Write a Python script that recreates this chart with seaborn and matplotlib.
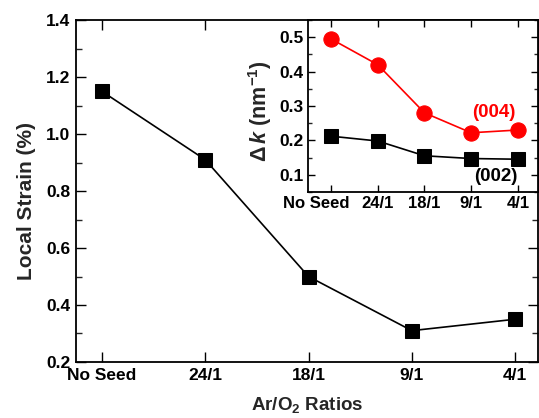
import numpy as np
import pandas as pd
import matplotlib
matplotlib.use("Agg")
import matplotlib.pyplot as plt
import matplotlib.transforms as mtransforms
import seaborn as sns
from matplotlib.ticker import MultipleLocator

categories = ["No Seed", "24/1", "18/1", "9/1", "4/1"]
local_strain = [1.15, 0.91, 0.50, 0.31, 0.35]
dk_004 = [0.495, 0.42, 0.28, 0.222, 0.23]
dk_002 = [0.212, 0.198, 0.155, 0.147, 0.145]

sns.set_theme(style="ticks")
plt.rcParams["font.family"] = ["Liberation Sans", "DejaVu Sans"]
plt.rcParams["font.weight"] = "bold"
plt.rcParams["mathtext.fontset"] = "custom"
plt.rcParams["mathtext.rm"] = "Liberation Sans:bold"
plt.rcParams["mathtext.bf"] = "Liberation Sans:bold"
plt.rcParams["mathtext.it"] = "Liberation Sans:bold:italic"
plt.rcParams["mathtext.default"] = "rm"

pos = np.arange(len(categories))
df = pd.DataFrame({"pos": pos, "cat": categories, "strain": local_strain,
                   "d004": dk_004, "d002": dk_002})

fig = plt.figure(figsize=(5.39, 4.18), dpi=100)
ax = fig.add_axes([0.141, 0.134, 0.857, 0.818])

sns.lineplot(data=df, x="pos", y="strain", ax=ax, color="black", lw=1.2,
             marker="s", markersize=10, markeredgecolor="black")
ax.set_xlim(-0.25, 4.22)
ax.set_ylim(0.2, 1.4)
ax.set_xticks(pos)
ax.set_xticklabels(categories, fontsize=12.5, fontweight="bold")
ax.yaxis.set_major_locator(MultipleLocator(0.2))
ax.yaxis.set_minor_locator(MultipleLocator(0.1))
ax.yaxis.set_major_formatter(matplotlib.ticker.FormatStrFormatter("%.1f"))
for lab in ax.get_yticklabels():
    lab.set_fontsize(12.5)
    lab.set_fontweight("bold")
ax.tick_params(axis="both", which="major", direction="in", length=7, width=1,
               top=True, right=True, pad=4, colors="black")
ax.tick_params(axis="y", which="minor", direction="in", length=4, width=1,
               left=True, right=True)
ax.set_xlabel("Ar/O$_2$ Ratios", fontsize=13.5, fontweight="bold", labelpad=9)
ax.set_ylabel("Local Strain (%)", fontsize=15, fontweight="bold", labelpad=7)
ax.yaxis.label.set_y(0.47)
for s in ax.spines.values():
    s.set_linewidth(1.3)
    s.set_color("black")

# inset
ins = fig.add_axes([0.571, 0.541, 0.427, 0.411])
sns.lineplot(data=df, x="pos", y="d004", ax=ins, color="#ff0000", lw=1.2,
             marker="o", markersize=11, markeredgecolor="#ff0000")
sns.lineplot(data=df, x="pos", y="d002", ax=ins, color="black", lw=1.2,
             marker="s", markersize=9.5, markeredgecolor="black")
ins.set_xlim(-0.5, 4.43)
ins.set_ylim(0.05, 0.55)
ins.set_xticks(pos)
ins.set_xticklabels(categories, fontsize=12, fontweight="bold")
ins.yaxis.set_major_locator(MultipleLocator(0.1))
ins.yaxis.set_minor_locator(MultipleLocator(0.05))
ins.yaxis.set_major_formatter(matplotlib.ticker.FormatStrFormatter("%.1f"))
for lab in ins.get_yticklabels():
    lab.set_fontsize(12.5)
    lab.set_fontweight("bold")
ins.tick_params(axis="both", which="major", direction="in", length=5, width=1,
                top=True, right=True, pad=3, colors="black")
ins.tick_params(axis="y", which="minor", direction="in", length=3, width=1,
                left=True, right=True)
ins.set_xlabel("")
ins.set_ylabel(r"$\Delta\,\mathit{k}$ (nm$^{-1}$)", fontsize=15.5,
               fontweight="bold", labelpad=4)
ins.yaxis.label.set_y(0.47)
for s in ins.spines.values():
    s.set_linewidth(1.3)
    s.set_color("black")
ins.text(3.49, 0.28, "(004)", color="#ff0000", fontsize=13.5, fontweight="bold",
         ha="center", va="center")
ins.text(3.52, 0.094, "(002)", color="black", fontsize=13.5, fontweight="bold",
         ha="center", va="center")

fig.canvas.draw()
first = ins.xaxis.get_major_ticks()[0].label1
first.set_transform(first.get_transform() +
                    mtransforms.ScaledTranslation(-0.15, 0, fig.dpi_scale_trans))

fig.savefig("out.png", dpi=100)
